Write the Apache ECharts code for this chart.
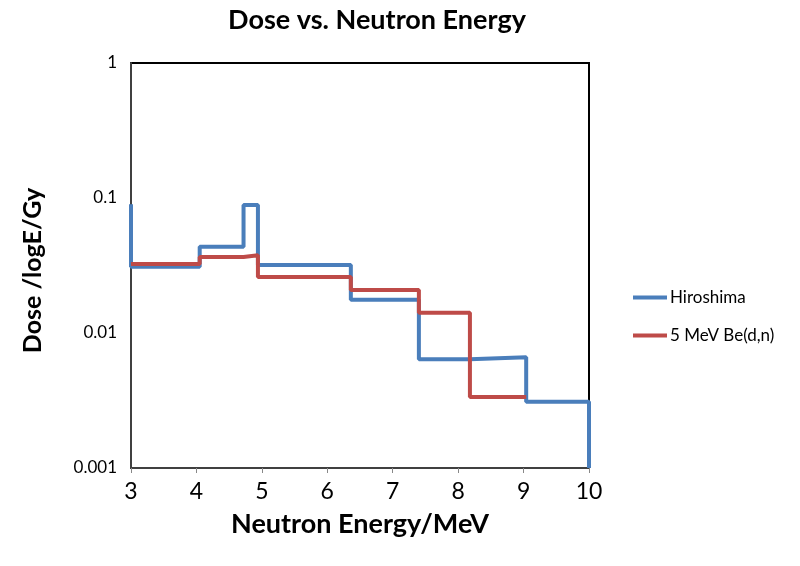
<!DOCTYPE html>
<html>
<head>
<meta charset="utf-8">
<script src="https://cdn.jsdelivr.net/npm/echarts@6/dist/echarts.min.js"></script>
<style>html,body{margin:0;padding:0;background:#fff}#c{width:800px;height:566px}</style>
</head>
<body>
<div id="c"></div>
<script>
// Bin edges (MeV) and dose per bin (Gy per log E)
const hiroshimaEdges = [3, 4.05, 4.72, 4.94, 6.36, 7.40, 8.18, 9.04, 10];
const hiroshimaValues = [0.031, 0.0436, 0.0887, 0.0319, 0.0176, 0.0064, 0.0066, 0.0031];
const hiroshimaStart = 0.09;   // value entering at the left edge
const hiroshimaEnd = 0.001;    // value leaving at the right edge
const beEdges = [3, 4.05, 4.72, 4.94, 6.36, 7.40, 8.18, 9.04];
const beValues = [0.0325, 0.0366, 0.0377, 0.026, 0.0208, 0.0141, 0.00336];
const xTicks = [3, 4, 5, 6, 7, 8, 9, 10];
const yTicks = [0.001, 0.01, 0.1, 1];
const seriesNames = ['Hiroshima', '5 MeV Be(d,n)'];

function stepPoints(edges, values) {
  const pts = [];
  for (let i = 0; i < values.length; i++) {
    pts.push([edges[i], values[i]]);
    pts.push([edges[i + 1], values[i]]);
  }
  return pts;
}
const blueData = [[hiroshimaEdges[0], hiroshimaStart]]
  .concat(stepPoints(hiroshimaEdges, hiroshimaValues))
  .concat([[hiroshimaEdges[hiroshimaEdges.length - 1], hiroshimaEnd]]);
const redData = stepPoints(beEdges, beValues);

const font = 'Lato, "Open Sans", sans-serif';
const chart = echarts.init(document.getElementById('c'), null, {renderer: 'canvas'});
chart.setOption({
  animation: false,
  backgroundColor: '#fff',
  textStyle: {fontFamily: font},
  title: {
    text: 'Dose vs. Neutron Energy',
    left: 372, top: 2, textAlign: 'center',
    textStyle: {fontFamily: font, fontWeight: 'bold', fontSize: 27, color: '#000'}
  },
  legend: {
    orient: 'vertical', left: 628, top: 284,
    itemWidth: 34, itemHeight: 4, itemGap: 21, icon: 'rect',
    textStyle: {fontFamily: font, fontSize: 17, color: '#000', padding: [0, 0, 0, -2]},
    data: seriesNames
  },
  grid: {
    left: 131, right: 211, top: 63, bottom: 98,
    show: true, borderColor: '#000', borderWidth: 2, backgroundColor: '#fff'
  },
  xAxis: {
    type: 'value', min: xTicks[0], max: xTicks[xTicks.length - 1], interval: 1,
    name: 'Neutron Energy/MeV', nameLocation: 'middle', nameGap: 43,
    nameTextStyle: {fontFamily: font, fontWeight: 'bold', fontSize: 27, color: '#000'},
    axisLine: {lineStyle: {color: '#404040', width: 2}},
    axisTick: {show: true, length: 5, lineStyle: {color: '#888', width: 1}},
    axisLabel: {fontSize: 23, color: '#000', margin: 12, fontFamily: font},
    splitLine: {show: false}
  },
  yAxis: {
    type: 'log', logBase: 10, min: yTicks[0], max: yTicks[yTicks.length - 1],
    name: 'Dose /logE/Gy', nameLocation: 'middle', nameGap: 86,
    nameTextStyle: {fontFamily: font, fontWeight: 'bold', fontSize: 25, color: '#000', padding: [0, 10, 0, 0]},
    axisLine: {show: true, lineStyle: {color: '#404040', width: 2}},
    axisTick: {show: false},
    axisLabel: {fontSize: 17, color: '#000', margin: 14, fontFamily: font,
      formatter: function (v) { return String(+v.toPrecision(3)); }},
    splitLine: {show: false}
  },
  series: [
    {name: seriesNames[0], type: 'line', data: blueData, showSymbol: false, symbol: 'none',
     lineStyle: {color: '#4a7ebb', width: 4}, itemStyle: {color: '#4a7ebb'}, z: 2},
    {name: seriesNames[1], type: 'line', data: redData, showSymbol: false, symbol: 'none',
     lineStyle: {color: '#be4b48', width: 4}, itemStyle: {color: '#be4b48'}, z: 3}
  ]
});
</script>
</body>
</html>
